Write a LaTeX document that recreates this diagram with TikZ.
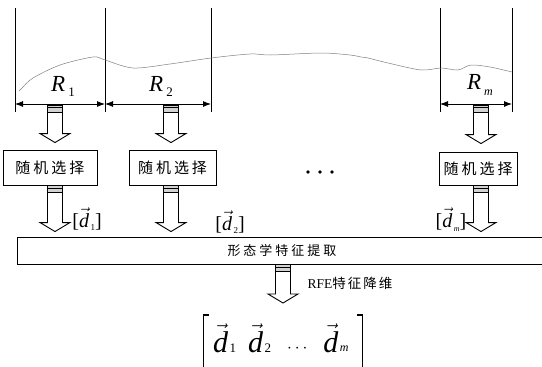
\documentclass[tikz,border=0pt]{standalone}
\usepackage{fontspec}
\setmainfont{Liberation Serif}
\newfontfamily\cjk{Noto Sans CJK SC}
\usetikzlibrary{arrows.meta,calc}
\newcommand\harr[2]{%
  \draw[hollow] ($(#1)+(-7.5,0)$) -- ($(#2)+(-7.5,-9)$) -- ($(#2)+(-15,-9)$) -- (#2) -- ($(#2)+(15,-9)$) -- ($(#2)+(7.5,-9)$) -- ($(#1)+(7.5,0)$);
  \filldraw[capbox] ($(#1)+(-7.5,0)$) rectangle ($(#1)+(7.5,7)$);
  \draw[capbox] ($(#1)+(-7.5,2.5)$) -- ($(#1)+(7.5,2.5)$);
}
% vector d with a subscript: #1 = subscript size, #2 = lowering, #3 = subscript
\newcommand\vd[3]{$\vec{\textit{d}}$\hspace{1.5pt}\raisebox{-#2}{\fontsize{#1}{#1}\selectfont #3}}
\begin{document}
\begin{tikzpicture}[x=1pt,y=-1pt,
  vline/.style={line width=1pt},
  dim/.style={line width=0.9pt,{Latex[length=8pt,width=6pt]}-{Latex[length=8pt,width=6pt]}},
  selbox/.style={draw,line width=0.9pt,minimum height=35pt,inner sep=0pt,font=\cjk\fontsize{15}{15}\selectfont},
  hollow/.style={line width=0.9pt},
  capbox/.style={line width=0.6pt,fill=gray!35,draw=black},
  rlab/.style={font=\fontsize{23}{23}\selectfont\itshape},
  dlab/.style={font=\fontsize{20}{20}\selectfont},
  brk/.style={line width=1.5pt},
  wave/.style={gray,line width=0.5pt}]
\useasboundingbox (0,0) rectangle (542,367);
\fill[white] (0,0) rectangle (542,367);
% vertical lines
\coordinate (v1t) at (15,8);  \coordinate (v1b) at (15,112);
\coordinate (v2t) at (105,8); \coordinate (v2b) at (105,112);
\coordinate (v3t) at (211,8); \coordinate (v3b) at (211,112);
\coordinate (v4t) at (440,8); \coordinate (v4b) at (440,112);
\coordinate (v5t) at (512,8); \coordinate (v5b) at (512,112);
\foreach \i in {1,...,5} {\draw[vline] (v\i t) -- (v\i b);}
% dimension arrows
\coordinate (d1) at (15,104); \coordinate (d2) at (105,104);
\coordinate (d3) at (211,104); \coordinate (d4) at (440,104);
\coordinate (d5) at (512,104);
\draw[dim] (d1) -- (d2);
\draw[dim] (d2) -- (d3);
\draw[dim] (d4) -- (d5);
% wave
\draw[wave] plot[smooth,tension=0.5] coordinates {(19,91) (22,88) (33,78) (60,65) (93,57) (105,60) (133,68) (170,64) (211,58) (250,54) (271,55) (321,53) (350,55) (361,57) (368,58) (388,63) (421,70) (441,68) (458,70) (471,65) (490,67) (512,72)};
% R labels
\node[rlab] (R1) at (63,86) {R\hspace{3pt}\raisebox{-5pt}{\upshape\fontsize{13}{13}\selectfont 1}};
\node[rlab] (R2) at (161,86) {R\hspace{3pt}\raisebox{-5pt}{\upshape\fontsize{13}{13}\selectfont 2}};
\node[rlab] (Rm) at (480,85) {R\hspace{3pt}\raisebox{-6pt}{\fontsize{12}{12}\selectfont m}};
% selection boxes
\node[selbox,minimum width=94pt] (b1) at (50,167.5) {随\hspace{3pt}机\hspace{3pt}选\hspace{3pt}择};
\node[selbox,minimum width=87pt] (b2) at (172.5,167.5) {随\hspace{3pt}机\hspace{3pt}选\hspace{3pt}择};
\node[selbox,minimum width=78pt,minimum height=33pt] (bm) at (478,168.5) {随\hspace{3pt}机\hspace{3pt}选\hspace{3pt}择};
% dots
\node[inner sep=0pt] (dots) at (320,172) {};
\foreach \dx in {-12,0,12} {\fill ($(dots)+(\dx,0)$) circle (1.9);}
% feature box
\node[draw,line width=0.9pt,minimum width=530pt,minimum height=27pt,inner sep=0pt,font=\cjk\fontsize{13}{13}\selectfont] (feat) at (282,250.5) {形\hspace{3pt}态\hspace{3pt}学\hspace{3pt}特\hspace{3pt}征\hspace{3pt}提\hspace{3pt}取};
% top hollow arrows
\coordinate (t1) at (55,105);  \coordinate (p1) at ($(b1.north -| t1)+(0,-7)$);
\coordinate (t2) at (171,105); \coordinate (p2) at ($(b2.north -| t2)+(0,-7)$);
\coordinate (t3) at (481,105); \coordinate (p3) at ($(bm.north -| t3)+(0,-8)$);
\harr{t1}{p1} \harr{t2}{p2} \harr{t3}{p3}
% lower hollow arrows
\coordinate (s1) at (b1.south -| t1); \coordinate (q1) at ($(feat.north -| t1)+(0,-5)$);
\coordinate (s2) at (b2.south -| t2); \coordinate (q2) at ($(feat.north -| t2)+(0,-5)$);
\coordinate (s3) at (bm.south -| t3); \coordinate (q3) at ($(feat.north -| t3)+(0,-5)$);
\harr{s1}{q1} \harr{s2}{q2} \harr{s3}{q3}
% d labels
\node[dlab] (l1) at (87,219) {[\vd{9}{3pt}{1}]};
\node[dlab] (l2) at (230,222) {[\vd{9}{3pt}{2}]};
\node[dlab] (l3) at (451,220) {[\vd{8}{4pt}{\textit{m}}]};
% bottom arrow
\coordinate (s4) at (feat.south -| 283,0); \coordinate (q4) at (283,303);
\harr{s4}{q4}
\node[anchor=west,font=\fontsize{13.5}{13.5}\selectfont] (rfe) at (304,283) {RFE{\cjk\fontsize{13.5}{13.5}\selectfont 特\hspace{2pt}征\hspace{2pt}降\hspace{2pt}维}};
% result vector
\node[anchor=base west,font=\fontsize{30}{30}\selectfont,inner sep=0pt] (res) at (213,352) {\vd{13}{0pt}{1}\hspace{12pt}\vd{13}{0pt}{2}\hspace{16pt}{\fontsize{18}{18}\selectfont$\cdots$}\hspace{16pt}\vd{12}{-1pt}{\textit{m}}};
\draw[brk] ($(res.base west)+(-4,-37)$) -- ($(res.base west)+(-9.5,-37)$) -- ($(res.base west)+(-9.5,20)$) -- ($(res.base west)+(-4,20)$);
\draw[brk] ($(res.base west)+(144,-37)$) -- ($(res.base west)+(149.5,-37)$) -- ($(res.base west)+(149.5,20)$) -- ($(res.base west)+(144,20)$);
\end{tikzpicture}
\end{document}
